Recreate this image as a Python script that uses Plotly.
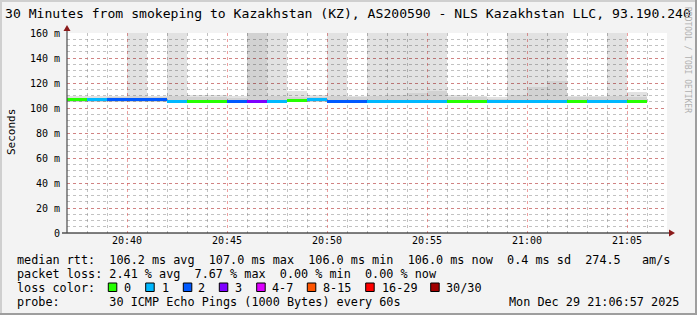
import plotly.graph_objects as go
import pandas as pd

# ---------------- data ----------------
minutes = ["20:37", "20:38", "20:39", "20:40", "20:41", "20:42", "20:43", "20:44", "20:45", "20:46",
           "20:47", "20:48", "20:49", "20:50", "20:51", "20:52", "20:53", "20:54", "20:55", "20:56",
           "20:57", "20:58", "20:59", "21:00", "21:01", "21:02", "21:03", "21:04", "21:05"]
median_ms = [106.8, 106.8, 107.2, 107.2, 106.8, 105.6, 105.6, 105.6, 105.6, 105.6,
             105.6, 106.2, 106.8, 105.6, 105.6, 105.6, 105.6, 105.6, 105.6, 105.6,
             105.6, 105.6, 105.6, 105.6, 105.6, 105.6, 105.6, 105.6, 105.6]
loss_pings = [0, 1, 2, 2, 2, 1, 0, 0, 2, 3,
              1, 0, 1, 2, 2, 1, 1, 1, 1, 0,
              0, 1, 1, 1, 1, 0, 1, 1, 0]
smoke_min = [104.5] * 29
smoke_max = [109.5, 109.5, 109.5, 200, 110.0, 200, 110.5, 110.5, 109.5, 200,
             200, 113.3, 110.5, 200, 110.0, 200, 200, 200, 200, 110.6,
             109.5, 108.5, 200, 200, 200, 110.0, 110.0, 200, 113.0]
smoke_mid = [108.0, 108.0, 108.5, 109.8, 109.0, 110.0, 108.5, 108.5, 108.0, 200,
             109.5, 109.0, 109.0, 110.0, 108.5, 110.0, 110.6, 112.0, 113.3, 108.5,
             108.5, 107.5, 110.6, 116.5, 121.3, 108.5, 108.5, 110.0, 109.0]

y_ticks = [0, 20, 40, 60, 80, 100, 120, 140, 160]
y_ticktext = ["0", "20 m", "40 m", "60 m", "80 m", "100 m", "120 m", "140 m", "160 m"]

loss_labels = ["0", "1", "2", "3", "4-7", "8-15", "16-29", "30/30"]
loss_colors = ["#26ff00", "#00b8ff", "#0059ff", "#7e00ff", "#dd00ff", "#ff5500", "#ff0000", "#a10000"]

rtt_stats = ["106.2 ms avg", "107.0 ms max", "106.0 ms min", "106.0 ms now", "0.4 ms sd", "274.5   am/s"]
loss_stats = ["2.41 % avg", "7.67 % max", "0.00 % min", "0.00 % now"]
probe_text = "30 ICMP Echo Pings (1000 Bytes) every 60s"
stamp_text = "Mon Dec 29 21:06:57 2025"
title_text = "30 Minutes from smokeping to Kazakhstan (KZ), AS200590 - NLS Kazakhstan LLC, 93.190.240"

DAY = "2025-12-29 "
FONT = "DejaVu Sans Mono"


def loss_color(n):
    if n <= 3:
        return loss_colors[n]
    if n <= 7:
        return loss_colors[4]
    if n <= 15:
        return loss_colors[5]
    if n <= 29:
        return loss_colors[6]
    return loss_colors[7]


xs = [pd.Timestamp(DAY + m) + pd.Timedelta(seconds=30) for m in minutes]
W = 60000
LINE = 2.4

fig = go.Figure()
fig.add_trace(go.Bar(x=xs, base=smoke_min, y=[h - l for h, l in zip(smoke_max, smoke_min)],
                     width=W, marker=dict(color="rgba(0,0,0,0.115)", line=dict(width=0)),
                     hoverinfo="skip"))
fig.add_trace(go.Bar(x=xs, base=smoke_min, y=[h - l for h, l in zip(smoke_mid, smoke_min)],
                     width=W, marker=dict(color="rgba(0,0,0,0.07)", line=dict(width=0)),
                     hoverinfo="skip"))
fig.add_trace(go.Bar(x=xs, base=[m - LINE / 2 for m in median_ms], y=[LINE] * len(median_ms),
                     width=W, marker=dict(color=[loss_color(n) for n in loss_pings], line=dict(width=0)),
                     hoverinfo="skip"))

L, T, PW, PH = 67, 33, 600, 200


def px(x):
    return (x - L) / PW


def py(y):
    return (T + PH - y) / PH


MGRID = "rgba(222,80,80,0.55)"
GRID = "rgba(143,143,143,0.55)"

fig.update_layout(
    width=697, height=315,
    margin=dict(l=L, r=697 - L - PW, t=T, b=315 - T - PH, pad=0),
    paper_bgcolor="#f3f3f3", plot_bgcolor="#ffffff",
    barmode="overlay", bargap=0, showlegend=False,
    font=dict(family=FONT, color="#000000"),
    xaxis=dict(type="date", range=[DAY + "20:37:00", DAY + "21:07:00"],
               tickmode="linear", tick0=DAY + "20:40:00", dtick=300000, tickformat="%H:%M",
               showgrid=True, gridcolor=MGRID, griddash="dot", gridwidth=1,
               minor=dict(tick0=DAY + "20:37:00", dtick=60000, showgrid=True, gridcolor=GRID,
                          griddash="dot", gridwidth=1),
               tickfont=dict(family=FONT, size=10, color="#000"), ticks="", showline=False,
               zeroline=False, fixedrange=True),
    yaxis=dict(range=[0, 160], tickmode="array", tickvals=y_ticks, ticktext=y_ticktext,
               showgrid=True, gridcolor=MGRID, griddash="dot", gridwidth=1,
               minor=dict(dtick=5, tick0=0, showgrid=True, gridcolor=GRID, griddash="dot", gridwidth=1),
               tickfont=dict(family=FONT, size=10, color="#000"), ticks="", showline=False,
               zeroline=False, fixedrange=True, ticklabelstandoff=6),
)

shapes = []
# frame
shapes.append(dict(type="rect", xref="paper", yref="paper", x0=px(0), x1=px(697), y0=py(0), y1=py(2),
                   fillcolor="#cfcfcf", line=dict(width=0), layer="above"))
shapes.append(dict(type="rect", xref="paper", yref="paper", x0=px(0), x1=px(2), y0=py(0), y1=py(315),
                   fillcolor="#cfcfcf", line=dict(width=0), layer="above"))
shapes.append(dict(type="rect", xref="paper", yref="paper", x0=px(0), x1=px(697), y0=py(313), y1=py(315),
                   fillcolor="#9e9e9e", line=dict(width=0), layer="above"))
shapes.append(dict(type="rect", xref="paper", yref="paper", x0=px(695), x1=px(697), y0=py(0), y1=py(315),
                   fillcolor="#9e9e9e", line=dict(width=0), layer="above"))
# axes
shapes.append(dict(type="line", xref="paper", yref="paper", x0=px(62), x1=px(669), y0=0, y1=0,
                   line=dict(color="#000000", width=1.2), layer="above"))
shapes.append(dict(type="line", xref="paper", yref="paper", x0=0, x1=0, y0=0, y1=py(29),
                   line=dict(color="#4a4a4a", width=1.2), layer="above"))
shapes.append(dict(type="path", xref="paper", yref="paper",
                   path=f"M {px(67)} {py(25)} L {px(63.5)} {py(31)} L {px(70.5)} {py(31)} Z",
                   fillcolor="#8b1a1a", line=dict(width=0), layer="above"))
shapes.append(dict(type="path", xref="paper", yref="paper",
                   path=f"M {px(675)} {py(233)} L {px(669)} {py(229.5)} L {px(669)} {py(236.5)} Z",
                   fillcolor="#8b1a1a", line=dict(width=0), layer="above"))

ann = []
NB = "\u00a0"


def text(x, y, s, size=11.8, anchor="left", color="#000", angle=0):
    ann.append(dict(xref="paper", yref="paper", x=px(x), y=py(y), text=s.replace(" ", NB),
                    showarrow=False, xanchor=anchor, yanchor="middle", textangle=angle,
                    font=dict(family=FONT, size=size, color=color)))


text(3, 13.5, title_text, size=13.1)
text(688, 60, "RRDTOOL / TOBI OETIKER", size=8, anchor="center", color="#b0b0b0", angle=90)
text(11, 132, "Seconds", size=11, anchor="center", angle=-90)

row1 = 259.5
row2 = 273.5
row3 = 287.5
row4 = 301.5
LX = 14.5
text(LX, row1, "median rtt:  " + "  ".join(rtt_stats))
text(LX, row2, "packet loss: " + "  ".join(loss_stats))
text(LX, row3, "loss color:")
box_x = [108.3, 145.7, 183.3, 219.3, 256.7, 307.3, 365.7, 430.7]
lab_x = [122.0, 159.5, 195.5, 233.0, 269.5, 320.5, 379.5, 444.0]
for bx, lx, lab, col in zip(box_x, lab_x, loss_labels, loss_colors):
    shapes.append(dict(type="rect", xref="paper", yref="paper", x0=px(bx), x1=px(bx + 8.5),
                       y0=py(283), y1=py(291.5), fillcolor=col, line=dict(color="#000", width=1),
                       layer="above"))
    text(lx, row3, lab)
text(LX, row4, "probe:       " + probe_text)
text(681, row4, stamp_text, anchor="right")

fig.update_layout(shapes=shapes, annotations=ann)
fig.write_html("out.html")
